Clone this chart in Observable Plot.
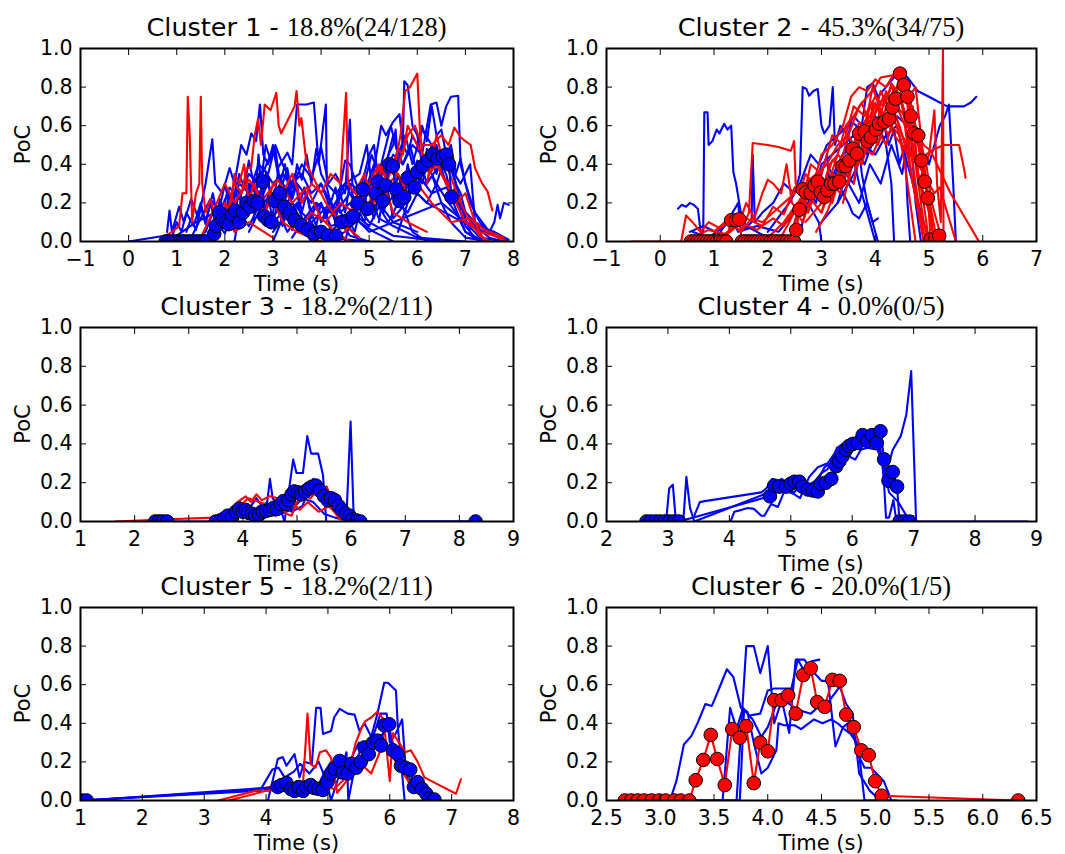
<!DOCTYPE html>
<html><head><meta charset="utf-8">
<script src="https://cdn.jsdelivr.net/npm/d3@7"></script>
<script src="https://cdn.jsdelivr.net/npm/@observablehq/plot@0.6"></script>
<style>
body{margin:0;background:#fff;}
#fig{position:relative;width:1065px;height:854px;overflow:hidden;}
#fig svg{position:absolute;}
</style></head>
<body><div id="fig"></div>
<script>
// ---------------- data ----------------
const titleNames = ["Cluster 1 - ","Cluster 2 - ","Cluster 3 - ","Cluster 4 - ","Cluster 5 - ","Cluster 6 - "];
const titleStats = ["18.8%(24/128)","45.3%(34/75)","18.2%(2/11)","0.0%(0/5)","18.2%(2/11)","20.0%(1/5)"];
const yTicks = [0,0.2,0.4,0.6,0.8,1.0];
const c1XTicks = [-1,0,1,2,3,4,5,6,7,8];
const c2XTicks = [-1,0,1,2,3,4,5,6,7];
const c3XTicks = [1,2,3,4,5,6,7,8,9];
const c4XTicks = [2,3,4,5,6,7,8,9];
const c5XTicks = [1,2,3,4,5,6,7,8];
const c6XTicks = [2.5,3.0,3.5,4.0,4.5,5.0,5.5,6.0,6.5];

const c1Blue = [
 [[0,0],[0.75,0.03],[0.9,0.02],[1.0,0.1],[1.1,0.05],[1.2,0.15],[1.35,0.08],[1.5,0.2],[1.6,0.1],[1.75,0.25],[1.85,0.12],[2.0,0.3],[2.1,0.18],[2.25,0.28],[2.4,0.15],[2.55,0.3],[2.7,0.2],[2.85,0.35],[3.0,0.22],[3.15,0.3],[3.3,0.12],[3.5,0.2],[3.7,0.05],[4.0,0.02],[4.3,0]],
 [[0.8,0.05],[0.85,0.16],[0.9,0.05],[1.05,0.18],[1.15,0.1],[1.3,0.22],[1.45,0.12],[1.6,0.3],[1.74,0.53],[1.8,0.3],[1.95,0.25],[2.1,0.38],[2.2,0.3],[2.34,0.5],[2.45,0.45],[2.55,0.56],[2.65,0.52],[2.73,0.71],[2.8,0.45],[2.9,0.4],[3.0,0.5],[3.1,0.35],[3.25,0.28],[3.4,0.2],[3.6,0.1],[3.8,0.05],[4.1,0.02],[5.0,0]],
 [[1.3,0.02],[1.5,0.12],[1.7,0.22],[1.9,0.15],[2.1,0.28],[2.3,0.22],[2.5,0.35],[2.7,0.3],[2.9,0.42],[3.0,0.48],[3.1,0.38],[3.3,0.46],[3.4,0.4],[3.5,0.71],[3.7,0.71],[3.85,0.72],[3.95,0.4],[4.1,0.71],[4.12,0.3],[4.3,0.25],[4.5,0.3],[4.7,0.2],[5.0,0.1],[5.5,0.03],[6.5,0]],
 [[2.0,0.1],[2.2,0.2],[2.4,0.28],[2.6,0.22],[2.8,0.38],[3.0,0.3],[3.2,0.35],[3.4,0.28],[3.6,0.4],[3.8,0.33],[4.0,0.49],[4.15,0.3],[4.3,0.35],[4.5,0.25],[4.6,0.63],[4.65,0.3],[4.8,0.2],[5.0,0.25],[5.2,0.12],[5.5,0.08],[6.0,0.02],[7.0,0]],
 [[3.0,0.05],[3.3,0.15],[3.6,0.1],[3.9,0.2],[4.2,0.15],[4.5,0.3],[4.8,0.35],[4.95,0.5],[5.05,0.3],[5.25,0.6],[5.35,0.55],[5.5,0.62],[5.63,0.66],[5.7,0.5],[5.73,0.83],[5.8,0.81],[5.9,0.6],[6.0,0.55],[6.1,0.4],[6.3,0.35],[6.5,0.2],[6.7,0.1],[7.0,0.02],[7.5,0]],
 [[4.0,0.1],[4.3,0.2],[4.6,0.3],[4.9,0.25],[5.1,0.4],[5.3,0.35],[5.5,0.45],[5.7,0.4],[5.9,0.5],[6.1,0.45],[6.28,0.71],[6.4,0.72],[6.5,0.6],[6.6,0.7],[6.7,0.75],[6.85,0.755],[6.9,0.4],[7.0,0.3],[7.2,0.15],[7.5,0.05],[7.9,0]],
 [[5.0,0.2],[5.3,0.3],[5.6,0.25],[5.9,0.35],[6.1,0.3],[6.3,0.5],[6.5,0.45],[6.7,0.38],[6.9,0.3],[7.1,0.4],[7.2,0.1],[7.5,0.05],[7.6,0.1],[7.67,0.19],[7.72,0.12],[7.8,0.2],[7.9,0.19]],
 [[1.0,0.03],[1.4,0.1],[1.8,0.15],[2.2,0.08],[2.6,0.18],[3.0,0.1],[3.4,0.2],[3.8,0.1],[4.2,0.2],[4.6,0.1],[5.0,0.3],[5.4,0.2],[5.8,0.35],[6.2,0.3],[6.6,0.45],[6.8,0.3],[7.0,0.1],[7.3,0.02],[7.8,0]],
 [[4.3,0.15],[4.5,0.42],[4.6,0.4],[4.8,0.25],[5.0,0.45],[5.1,0.5],[5.2,0.3],[5.4,0.45],[5.5,0.55],[5.6,0.45],[5.75,0.55],[5.9,0.4],[6.1,0.58],[6.3,0.5],[6.45,0.42],[6.6,0.3],[6.75,0.2],[7.0,0.05],[7.4,0.0]],
 [[2.5,0.05],[2.8,0.2],[3.0,0.25],[3.2,0.15],[3.5,0.3],[3.8,0.2],[4.0,0.3],[4.3,0.1],[4.6,0.15],[5.0,0.05],[5.5,0.1],[6.0,0.15],[6.5,0.2],[7.0,0.1],[7.6,0.05],[7.9,0.01]],
 [[5.8,0.3],[6.2,0.2],[6.8,0.12],[7.4,0.05],[7.8,0.01]],
 [[6.0,0.35],[6.3,0.25],[6.6,0.28],[6.9,0.18],[7.2,0.1],[7.7,0.02]],
 [[1.6,0.0],[1.9,0.2],[2.1,0.15],[2.3,0.3],[2.5,0.25],[2.7,0.4],[2.9,0.35],[3.05,0.5],[3.2,0.4],[3.4,0.3],[3.6,0.35],[3.8,0.25],[4.0,0.3],[4.3,0.15],[4.6,0.25],[4.9,0.15],[5.2,0.2],[5.5,0.1],[6.0,0.05]],
 [[4.7,0.1],[4.9,0.3],[5.05,0.45],[5.2,0.35],[5.45,0.6],[5.55,0.5],[5.7,0.4],[5.85,0.5],[6.0,0.35],[6.2,0.4],[6.4,0.3],[6.6,0.45],[6.75,0.35],[6.9,0.2],[7.1,0.05]],
 [[1.2,0.05],[1.3,0.12],[1.4,0.06],[1.5,0.18],[1.6,0.09],[1.7,0.2],[1.8,0.1],[1.9,0.22],[2.0,0.14],[2.1,0.25],[2.2,0.12],[2.3,0.27],[2.4,0.18],[2.5,0.3],[2.6,0.16],[2.7,0.26],[2.8,0.12],[2.9,0.24],[3.0,0.1],[3.1,0.2],[3.2,0.08],[3.3,0.18],[3.4,0.06],[3.5,0.14],[3.6,0.04],[3.8,0.1],[4.0,0.02],[4.3,0.0]],
 [[2.2,0.0],[2.3,0.15],[2.4,0.1],[2.5,0.25],[2.6,0.2],[2.7,0.32],[2.8,0.25],[2.9,0.3],[3.0,0.18],[3.1,0.35],[3.2,0.3],[3.3,0.38],[3.4,0.22],[3.5,0.3],[3.6,0.15],[3.7,0.25],[3.8,0.12],[3.9,0.2],[4.0,0.1],[4.1,0.16],[4.2,0.05],[4.4,0.1],[4.6,0.03],[5.0,0.0]],
 [[3.4,0.02],[3.6,0.1],[3.7,0.05],[3.8,0.15],[3.9,0.08],[4.0,0.2],[4.1,0.12],[4.2,0.22],[4.3,0.1],[4.4,0.25],[4.5,0.15],[4.6,0.3],[4.7,0.2],[4.8,0.28],[4.9,0.18],[5.0,0.32],[5.1,0.22],[5.2,0.3],[5.3,0.15],[5.4,0.25],[5.5,0.12],[5.7,0.18],[5.9,0.05],[6.2,0.0]],
 [[4.5,0.0],[4.6,0.1],[4.7,0.05],[4.8,0.15],[4.9,0.1],[5.0,0.2],[5.1,0.12],[5.2,0.25],[5.3,0.18],[5.4,0.3],[5.5,0.22],[5.6,0.35],[5.7,0.25],[5.8,0.4],[5.9,0.3],[6.0,0.42],[6.1,0.35],[6.2,0.48],[6.3,0.38],[6.4,0.5],[6.5,0.4],[6.6,0.35],[6.7,0.25],[6.8,0.28],[6.9,0.15],[7.0,0.08],[7.2,0.02]],
 [[1.8,0.0],[1.9,0.08],[2.0,0.04],[2.1,0.12],[2.2,0.06],[2.3,0.15],[2.5,0.08],[2.7,0.18],[2.9,0.1],[3.1,0.16],[3.3,0.05],[3.5,0.12],[3.7,0.03],[3.9,0.08],[4.1,0.0],[4.5,0.05],[4.8,0.12],[5.0,0.08],[5.2,0.18],[5.4,0.1],[5.6,0.2],[5.8,0.15],[6.0,0.25],[6.2,0.2],[6.4,0.3],[6.6,0.22],[6.8,0.15],[7.0,0.05],[7.3,0.0]],
 [[2.6,0.1],[2.7,0.45],[2.75,0.3],[2.85,0.5],[2.95,0.42],[3.05,0.48],[3.15,0.3],[3.25,0.4],[3.35,0.25],[3.45,0.35],[3.55,0.18],[3.65,0.28],[3.8,0.15],[4.0,0.2],[4.2,0.08],[4.5,0.1],[4.8,0.0]],
 [[5.2,0.1],[5.3,0.25],[5.4,0.45],[5.5,0.5],[5.55,0.58],[5.6,0.4],[5.7,0.5],[5.8,0.45],[5.9,0.55],[6.0,0.5],[6.1,0.6],[6.2,0.52],[6.3,0.7],[6.4,0.55],[6.5,0.58],[6.6,0.45],[6.7,0.5],[6.8,0.35],[6.9,0.43],[7.0,0.3],[7.1,0.2],[7.3,0.1],[7.6,0.03]],
 [[3.0,0.0],[3.2,0.12],[3.3,0.28],[3.4,0.22],[3.5,0.4],[3.6,0.32],[3.7,0.45],[3.8,0.3],[3.9,0.48],[4.0,0.35],[4.1,0.3],[4.2,0.2],[4.3,0.28],[4.4,0.15],[4.6,0.2],[4.8,0.1],[5.1,0.05],[5.5,0.0]],
 [[1.4,0.0],[1.6,0.05],[1.75,0.15],[1.9,0.1],[2.05,0.25],[2.15,0.2],[2.3,0.35],[2.4,0.28],[2.5,0.42],[2.6,0.3],[2.7,0.35],[2.8,0.2],[3.0,0.25],[3.2,0.12],[3.5,0.1],[3.8,0.0]],
 [[5.6,0.05],[5.8,0.2],[5.9,0.3],[6.0,0.25],[6.1,0.38],[6.2,0.3],[6.3,0.42],[6.4,0.35],[6.5,0.45],[6.6,0.38],[6.7,0.42],[6.8,0.3],[6.9,0.25],[7.0,0.15],[7.2,0.08],[7.5,0.02],[7.8,0.0]]
];
const c1Red = [
 [[0.7,0.02],[0.9,0.05],[1.05,0.08],[1.12,0.25],[1.2,0.25],[1.23,0.75],[1.27,0.55],[1.32,0.1],[1.4,0.25],[1.47,0.3],[1.5,0.75],[1.53,0.3],[1.6,0.15],[1.7,0.22],[1.85,0.08],[2.0,0.15],[2.2,0.05],[2.5,0.1],[3.0,0.02]],
 [[2.0,0.1],[2.2,0.3],[2.35,0.25],[2.45,0.38],[2.55,0.385],[2.62,0.55],[2.69,0.635],[2.75,0.5],[2.83,0.71],[2.95,0.68],[3.07,0.77],[3.12,0.6],[3.17,0.56],[3.31,0.63],[3.45,0.7],[3.49,0.78],[3.55,0.6],[3.59,0.64],[3.7,0.4],[3.9,0.3],[4.1,0.2],[4.4,0.1],[4.8,0.02]],
 [[2.8,0.1],[3.0,0.3],[3.2,0.25],[3.4,0.35],[3.6,0.2],[3.8,0.3],[4.0,0.25],[4.2,0.35],[4.4,0.3],[4.52,0.77],[4.56,0.3],[4.7,0.25],[4.9,0.35],[5.1,0.2],[5.3,0.3],[5.5,0.15],[5.8,0.1],[6.2,0.05]],
 [[5.0,0.2],[5.3,0.4],[5.5,0.35],[5.65,0.55],[5.75,0.78],[5.85,0.8],[6.0,0.87],[6.05,0.6],[6.1,0.45],[6.25,0.35],[6.4,0.4],[6.6,0.3],[6.8,0.2],[7.0,0.1],[7.3,0.05],[7.6,0.03],[7.87,0]],
 [[5.5,0.3],[5.8,0.55],[5.95,0.6],[6.1,0.5],[6.3,0.5],[6.5,0.55],[6.65,0.5],[6.77,0.59],[6.9,0.54],[7.0,0.52],[7.11,0.5],[7.2,0.38],[7.35,0.3],[7.46,0.26],[7.56,0.16]],
 [[3.5,0.05],[3.8,0.15],[4.1,0.1],[4.4,0.2],[4.7,0.15],[5.0,0.3],[5.2,0.4],[5.4,0.3],[5.6,0.35],[5.8,0.25],[6.0,0.3],[6.3,0.2],[6.7,0.1],[7.1,0.12],[7.4,0.06],[7.8,0.02]],
 [[1.5,0.02],[1.8,0.18],[2.0,0.3],[2.2,0.2],[2.5,0.32],[2.8,0.22],[3.1,0.32],[3.4,0.2],[3.7,0.28],[4.0,0.12],[4.3,0.05],[4.6,0.0]],
 [[6.2,0.3],[6.4,0.55],[6.5,0.45],[6.6,0.4],[6.75,0.3],[6.9,0.2],[7.1,0.1],[7.3,0.03],[7.5,0]],
 [[1.8,0.05],[2.0,0.2],[2.1,0.15],[2.2,0.35],[2.3,0.3],[2.4,0.4],[2.5,0.2],[2.6,0.3],[2.8,0.15],[3.0,0.22],[3.2,0.1],[3.5,0.05],[4.0,0.0]],
 [[4.5,0.05],[4.7,0.2],[4.8,0.3],[5.0,0.25],[5.2,0.38],[5.4,0.33],[5.6,0.48],[5.7,0.45],[5.8,0.6],[5.9,0.55],[6.0,0.5],[6.2,0.42],[6.35,0.48],[6.5,0.35],[6.65,0.3],[6.8,0.2],[7.0,0.25],[7.2,0.1],[7.4,0.0]]
];
const c1Mean = [[0.77,0],[0.83,0],[0.89,0],[0.95,0],[1.01,0],[1.07,0],[1.13,0],[1.19,0],[1.25,0],[1.31,0],[1.37,0],[1.43,0],[1.49,0],[1.55,0],[1.61,0],
 [1.78,0.04],[1.82,0.08],[1.88,0.15],[1.95,0.11],[2.02,0.1],[2.08,0.09],[2.15,0.14],[2.22,0.16],[2.3,0.1],[2.38,0.15],[2.45,0.2],[2.52,0.18],[2.6,0.21],[2.68,0.2],[2.79,0.31],[2.82,0.13],[2.9,0.11],[2.97,0.1],[3.04,0.21],[3.14,0.25],[3.24,0.18],[3.35,0.15],[3.45,0.11],[3.59,0.085],[3.73,0.06],[3.87,0.04],[4.0,0.05],[4.14,0.03],[4.31,0.03],[4.42,0.1],[4.56,0.11],[4.66,0.13],[4.76,0.2],[4.87,0.27],[4.97,0.17],[5.14,0.25],[5.18,0.31],[5.28,0.21],[5.35,0.29],[5.42,0.4],[5.49,0.39],[5.56,0.27],[5.63,0.21],[5.73,0.23],[5.8,0.33],[5.94,0.28],[6.0,0.36],[6.11,0.39],[6.22,0.42],[6.32,0.45],[6.42,0.43],[6.53,0.44],[6.6,0.45],[6.66,0.4],[6.71,0.23]];

const c2Blue = [
 [[0.33,0.17],[0.4,0.19],[0.48,0.18],[0.55,0.2],[0.62,0.19],[0.7,0.17],[0.76,0.03],[0.8,0.05],[0.82,0.67],[0.88,0.67],[0.9,0.5],[0.97,0.52],[1.05,0.58],[1.1,0.56],[1.19,0.61],[1.25,0.58],[1.32,0.6],[1.36,0.36],[1.41,0.3],[1.5,0.15],[1.6,0.08],[1.8,0.05],[2.0,0.02]],
 [[0.6,0.05],[0.9,0.02],[1.2,0.08],[1.45,0.2],[1.5,0.05],[1.7,0.1],[1.72,0.45],[1.76,0.1],[1.9,0.15],[2.1,0.2],[2.3,0.3],[2.5,0.25],[2.6,0.35],[2.65,0.8],[2.72,0.79],[2.77,0.755],[2.85,0.78],[2.93,0.79],[3.0,0.6],[3.05,0.56],[3.15,0.6],[3.21,0.8],[3.25,0.5],[3.35,0.6],[3.5,0.55],[3.7,0.3],[3.9,0.1],[4.0,0.0]],
 [[2.0,0.05],[2.4,0.2],[2.6,0.3],[2.8,0.45],[2.95,0.4],[3.1,0.5],[3.3,0.55],[3.5,0.6],[3.6,0.65],[3.75,0.6],[3.85,0.8],[3.95,0.82],[4.05,0.75],[4.2,0.8],[4.35,0.85],[4.48,0.88],[4.6,0.85],[4.79,0.78],[5.0,0.75],[5.2,0.72],[5.34,0.7],[5.5,0.7],[5.65,0.7],[5.78,0.72],[5.88,0.75]],
 [[2.5,0.1],[2.7,0.25],[2.9,0.35],[3.1,0.4],[3.3,0.3],[3.5,0.2],[3.58,0.145],[3.7,0.12],[3.85,0.2],[3.95,0.1],[4.05,0.12]],
 [[2.8,0.2],[3.0,0.4],[3.2,0.45],[3.4,0.5],[3.6,0.55],[3.8,0.6],[4.0,0.65],[4.2,0.5],[4.3,0.3],[4.35,0.0]],
 [[3.2,0.3],[3.4,0.45],[3.6,0.5],[3.8,0.4],[4.0,0.55],[4.2,0.6],[4.4,0.65],[4.6,0.6],[4.8,0.5],[5.0,0.4],[5.2,0.6],[5.3,0.65],[5.37,0.71],[5.45,0.3],[5.5,0.0]],
 [[3.0,0.1],[3.3,0.2],[3.6,0.35],[3.8,0.5],[4.0,0.45],[4.2,0.55],[4.4,0.6],[4.6,0.4],[4.8,0.2],[5.0,0.0]],
 [[3.5,0.3],[3.7,0.2],[3.9,0.4],[4.1,0.3],[4.3,0.5],[4.5,0.35],[4.65,0.6],[4.75,0.2],[4.85,0.0]],
 [[0.55,0.05],[0.8,0.08],[1.1,0.04],[1.3,0.13],[1.45,0.05],[1.8,0.08],[2.2,0.05],[2.5,0.15],[2.75,0.2],[2.95,0.1],[3.0,0.0]],
 [[3.3,0.2],[3.45,0.35],[3.6,0.3],[3.75,0.5],[3.85,0.45],[3.95,0.6],[4.05,0.55],[4.15,0.62],[4.25,0.5],[4.35,0.58],[4.45,0.4],[4.55,0.5],[4.6,0.2],[4.65,0.0]],
 [[2.6,0.05],[2.8,0.25],[2.9,0.2],[3.0,0.35],[3.1,0.45],[3.15,0.3],[3.3,0.4],[3.45,0.48],[3.55,0.62],[3.65,0.6],[3.75,0.35],[3.85,0.2],[3.95,0.1],[4.05,0.0]]
];
const c2Red = [
 [[-0.54,0.0],[0.39,0.0],[0.48,0.135],[0.6,0.1],[0.75,0.05],[0.9,0.1],[1.1,0.07],[1.3,0.1],[1.5,0.05],[1.7,0.12],[1.9,0.1],[2.1,0.15],[2.3,0.2],[2.5,0.25],[2.7,0.3],[2.9,0.35],[3.1,0.4],[3.3,0.5],[3.5,0.55],[3.7,0.7],[3.85,0.75],[4.0,0.8],[4.1,0.85],[4.3,0.86],[4.5,0.85],[4.6,0.7],[4.7,0.5],[4.8,0.3],[4.9,0.1],[5.0,0.0]],
 [[1.5,0.05],[1.65,0.15],[1.72,0.51],[2.0,0.5],[2.2,0.49],[2.43,0.47],[2.49,0.52],[2.52,0.3],[2.6,0.25],[2.7,0.35],[2.85,0.3],[3.0,0.45],[3.2,0.5],[3.4,0.6],[3.55,0.75],[3.7,0.8],[3.85,0.78],[4.0,0.84],[4.2,0.8],[4.35,0.87],[4.5,0.88],[4.6,0.8],[4.75,0.6],[4.85,0.4],[5.0,0.2],[5.1,0.0]],
 [[1.0,0.05],[1.2,0.1],[1.45,0.08],[1.6,0.2],[1.75,0.12],[1.9,0.25],[2.0,0.32],[2.1,0.3],[2.25,0.25],[2.35,0.4],[2.45,0.2],[2.6,0.15],[2.8,0.4],[3.0,0.35],[3.2,0.55],[3.4,0.5],[3.6,0.7],[3.8,0.65],[4.0,0.75],[4.15,0.7],[4.3,0.8],[4.45,0.75],[4.6,0.6],[4.7,0.7],[4.8,0.3],[5.0,0.45],[5.1,0.68],[5.15,0.3],[5.22,0.1],[5.26,1.0],[5.27,0.0]],
 [[2.4,0.0],[2.55,0.15],[2.7,0.2],[2.85,0.3],[3.0,0.25],[3.15,0.4],[3.3,0.45],[3.45,0.6],[3.6,0.65],[3.75,0.72],[3.9,0.6],[4.05,0.7],[4.2,0.65],[4.35,0.55],[4.5,0.5],[4.65,0.45],[4.8,0.4],[4.95,0.45],[5.03,0.47],[5.28,0.5],[5.56,0.5],[5.65,0.38],[5.68,0.33]],
 [[2.0,0.02],[2.3,0.1],[2.55,0.2],[2.75,0.15],[2.95,0.3],[3.1,0.25],[3.3,0.35],[3.5,0.4],[3.65,0.5],[3.8,0.6],[4.0,0.7],[4.2,0.75],[4.4,0.7],[4.55,0.65],[4.7,0.6],[4.9,0.5],[5.03,0.47],[5.4,0.25],[5.93,0.0]],
 [[2.9,0.05],[3.1,0.15],[3.3,0.3],[3.5,0.35],[3.7,0.55],[3.85,0.65],[3.95,0.8],[4.05,0.72],[4.2,0.6],[4.35,0.68],[4.5,0.55],[4.7,0.45],[4.9,0.35],[5.1,0.25],[5.2,0.28],[5.5,0.0]],
 [[3.4,0.2],[3.6,0.45],[3.75,0.4],[3.9,0.55],[4.05,0.5],[4.2,0.62],[4.4,0.8],[4.55,0.85],[4.65,0.76],[4.75,0.8],[4.85,0.55],[4.95,0.3],[5.05,0.15],[5.15,0.0]],
 [[0.6,0.02],[0.9,0.06],[1.2,0.04],[1.5,0.1],[1.8,0.06],[2.1,0.12],[2.3,0.08],[2.5,0.17],[2.65,0.1],[2.8,0.22],[3.0,0.15],[3.2,0.3],[3.35,0.25],[3.5,0.45],[3.65,0.4],[3.8,0.52],[3.95,0.5],[4.1,0.62],[4.25,0.55],[4.4,0.7],[4.55,0.6],[4.7,0.3],[4.85,0.1],[4.95,0.0]],
 [[2.5,0.05],[2.65,0.2],[2.8,0.25],[2.95,0.35],[3.05,0.3],[3.2,0.42],[3.35,0.4],[3.5,0.55],[3.6,0.5],[3.7,0.62],[3.8,0.58],[3.9,0.7],[4.0,0.66],[4.1,0.78],[4.2,0.72],[4.3,0.82],[4.4,0.78],[4.5,0.7],[4.6,0.55],[4.7,0.4],[4.8,0.2],[4.9,0.05],[5.0,0.0]],
 [[2.7,0.1],[2.85,0.15],[3.0,0.2],[3.15,0.3],[3.3,0.28],[3.45,0.4],[3.6,0.45],[3.75,0.55],[3.9,0.5],[4.0,0.6],[4.1,0.68],[4.25,0.62],[4.4,0.75],[4.5,0.72],[4.6,0.62],[4.7,0.48],[4.8,0.35],[4.9,0.25],[5.0,0.15],[5.1,0.0]],
 [[3.0,0.15],[3.1,0.25],[3.2,0.2],[3.35,0.35],[3.5,0.3],[3.6,0.45],[3.7,0.42],[3.8,0.55],[3.9,0.52],[4.0,0.62],[4.1,0.58],[4.2,0.7],[4.3,0.65],[4.4,0.6],[4.5,0.5],[4.6,0.45],[4.7,0.3],[4.8,0.15],[4.9,0.0]],
 [[3.6,0.3],[3.7,0.5],[3.8,0.62],[3.9,0.58],[3.95,0.72],[4.05,0.68],[4.15,0.75],[4.25,0.7],[4.35,0.8],[4.45,0.76],[4.55,0.82],[4.65,0.7],[4.75,0.58],[4.85,0.5],[4.95,0.4],[5.05,0.2],[5.2,0.05],[5.3,0.0]],
 [[2.2,0.0],[2.4,0.1],[2.6,0.22],[2.75,0.18],[2.9,0.28],[3.05,0.22],[3.2,0.35],[3.35,0.32],[3.5,0.42],[3.65,0.38],[3.8,0.48],[3.95,0.45],[4.1,0.55],[4.2,0.5],[4.3,0.6],[4.45,0.55],[4.55,0.4],[4.65,0.2],[4.75,0.0]],
 [[1.0,0.0],[1.3,0.05],[1.6,0.12],[1.9,0.08],[2.1,0.18],[2.3,0.14],[2.5,0.28],[2.7,0.22],[2.9,0.32],[3.1,0.28],[3.3,0.45],[3.5,0.4],[3.7,0.58],[3.85,0.55],[4.0,0.72],[4.1,0.65],[4.2,0.78],[4.3,0.7],[4.45,0.6],[4.6,0.45],[4.7,0.6],[4.8,0.35],[4.9,0.2],[5.0,0.0]]
];
const c2Mean = [[0.57,0],[0.63,0],[0.69,0],[0.75,0],[0.81,0],[0.87,0],[0.93,0],[0.99,0],[1.05,0],[1.11,0],[1.17,0],[1.23,0],[1.32,0.11],[1.41,0.11],[1.47,0.115],[1.52,0],[1.57,0],[1.63,0],[1.69,0],[1.75,0],[1.81,0],[1.87,0],[1.93,0],[1.99,0],[2.05,0],[2.11,0],[2.17,0],[2.23,0],[2.29,0],[2.35,0],[2.42,0],[2.49,0],
 [2.53,0.06],[2.59,0.165],[2.65,0.27],[2.71,0.255],[2.8,0.25],[2.87,0.29],[2.93,0.31],[2.99,0.255],[3.05,0.23],[3.11,0.265],[3.18,0.3],[3.24,0.3],[3.33,0.31],[3.39,0.39],[3.45,0.39],[3.52,0.42],[3.58,0.48],[3.66,0.455],[3.7,0.56],[3.8,0.57],[3.86,0.52],[3.92,0.54],[4.01,0.58],[4.07,0.61],[4.17,0.62],[4.26,0.635],[4.32,0.695],[4.38,0.74],[4.46,0.87],[4.53,0.81],[4.6,0.75],[4.66,0.65],[4.72,0.56],[4.8,0.55],[4.86,0.42],[4.92,0.31],[4.98,0.225],[5.03,0.01],[5.19,0.03]];

const c3Blue = [
 [[3.8,0.0],[3.95,0.1],[4.1,0.06],[4.25,0.12],[4.35,0.08],[4.45,0.1],[4.5,0.22],[4.55,0.12],[4.7,0.06],[4.77,0.0],[4.93,0.32],[4.99,0.25],[5.11,0.25],[5.19,0.44],[5.26,0.35],[5.39,0.35],[5.48,0.24],[5.54,0.0]],
 [[3.9,0.05],[4.1,0.03],[4.3,0.08],[4.5,0.05],[4.7,0.1],[4.9,0.05],[5.1,0.08],[5.3,0.22],[5.4,0.2],[5.5,0.1],[5.7,0.05],[5.85,0.03],[5.91,0.0],[5.99,0.515],[6.05,0.0],[6.2,0.0],[8.3,0.0]],
 [[4.0,0.02],[4.3,0.05],[4.6,0.03],[4.9,0.06],[5.1,0.12],[5.3,0.1],[5.5,0.04],[5.7,0.02],[6.0,0.0]]
];
const c3Red = [
 [[1.64,0.0],[2.5,0.01],[3.48,0.02],[3.7,0.04],[3.9,0.1],[4.05,0.13],[4.15,0.1],[4.25,0.14],[4.35,0.11],[4.5,0.13],[4.65,0.12],[4.8,0.04],[4.9,0.03],[5.0,0.1],[5.1,0.14],[5.25,0.12],[5.4,0.17],[5.55,0.18],[5.65,0.1],[5.8,0.02],[5.95,0.0]],
 [[3.7,0.02],[3.9,0.07],[4.1,0.12],[4.3,0.1],[4.5,0.08],[4.7,0.06],[4.9,0.1],[5.05,0.06],[5.2,0.1],[5.4,0.05],[5.6,0.08],[5.8,0.01]]
];
const c3Mean = [[2.38,0],[2.45,0],[2.52,0],[2.6,0],[3.5,0],[3.58,0.005],[3.65,0.015],[3.72,0.03],[3.8,0.02],[3.87,0.05],[3.93,0.065],[4.0,0.05],[4.05,0.06],[4.1,0.045],[4.17,0.04],[4.23,0.03],[4.3,0.035],[4.37,0.05],[4.43,0.055],[4.5,0.06],[4.57,0.07],[4.63,0.065],[4.7,0.09],[4.75,0.105],[4.8,0.09],[4.85,0.11],[4.9,0.14],[4.95,0.155],[5.02,0.15],[5.08,0.14],[5.15,0.155],[5.22,0.17],[5.28,0.18],[5.35,0.185],[5.42,0.16],[5.5,0.13],[5.57,0.11],[5.63,0.12],[5.7,0.11],[5.77,0.08],[5.83,0.06],[5.9,0.04],[5.97,0.03],[6.03,0.01],[6.1,0.005],[6.17,0],[8.3,0]];

const c4Blue = [
 [[2.97,0.0],[3.02,0.17],[3.08,0.19],[3.13,0.0],[3.25,0.0],[3.3,0.23],[3.36,0.07],[3.43,0.0],[4.57,0.14],[4.66,0.13],[4.75,0.2],[4.85,0.22],[5.0,0.18],[5.1,0.2],[5.2,0.16],[5.35,0.2],[5.45,0.22],[5.55,0.28],[5.65,0.3],[5.75,0.38],[5.85,0.4],[6.0,0.43],[6.1,0.42],[6.2,0.44],[6.35,0.43],[6.45,0.4],[6.52,0.21],[6.66,0.37],[6.79,0.44],[6.88,0.55],[6.96,0.775],[7.04,0.0],[8.85,0.0]],
 [[3.43,0.03],[3.52,0.1],[3.6,0.105],[4.52,0.15],[4.6,0.17],[4.7,0.22],[4.8,0.2],[4.95,0.17],[5.05,0.15],[5.15,0.18],[5.25,0.14],[5.4,0.21],[5.5,0.25],[5.6,0.27],[5.7,0.33],[5.8,0.36],[5.9,0.38],[6.0,0.42],[6.1,0.44],[6.2,0.41],[6.3,0.4],[6.4,0.43],[6.5,0.3],[6.55,0.02],[6.6,0.02],[6.67,0.11],[6.72,0.0],[6.8,0.0]],
 [[4.02,0.0],[4.08,0.05],[4.2,0.06],[4.3,0.07],[4.4,0.065],[4.52,0.03],[4.57,0.03],[4.68,0.09],[4.79,0.075],[4.9,0.16],[5.06,0.14],[5.15,0.12],[5.3,0.23],[5.44,0.28],[5.6,0.3],[5.71,0.35],[5.84,0.4],[5.98,0.33],[6.05,0.32],[6.14,0.37],[6.25,0.38],[6.41,0.37],[6.5,0.3],[6.6,0.15],[6.75,0.1],[6.9,0.02],[7.0,0.0]]
];
const c4Red = [];
const c4Mean = [[2.65,0],[2.72,0],[2.8,0],[2.87,0],[2.95,0],[3.02,0],[3.1,0],[3.18,0],[4.66,0.13],[4.73,0.185],[4.81,0.18],[4.92,0.18],[5.0,0.195],[5.06,0.205],[5.14,0.205],[5.19,0.18],[5.28,0.165],[5.36,0.16],[5.44,0.155],[5.49,0.195],[5.57,0.2],[5.66,0.22],[5.74,0.285],[5.79,0.31],[5.84,0.335],[5.9,0.37],[5.95,0.39],[6.01,0.4],[6.09,0.405],[6.17,0.445],[6.25,0.415],[6.32,0.445],[6.4,0.405],[6.46,0.465],[6.52,0.32],[6.59,0.21],[6.66,0.255],[6.73,0.18],[6.77,0],[6.85,0],[6.93,0]];

const c5Blue = [
 [[1.02,0.0],[4.1,0.06],[4.2,0.07],[4.35,0.09],[4.5,0.07],[4.65,0.09],[4.8,0.05],[4.95,0.15],[5.05,0.2],[5.15,0.17],[5.25,0.22],[5.35,0.2],[5.5,0.3],[5.6,0.27],[5.75,0.35],[5.85,0.45],[5.95,0.45],[6.0,0.3],[6.1,0.35],[6.2,0.42],[6.25,0.2],[6.35,0.08],[6.5,0.03],[6.7,0.0]],
 [[4.03,0.0],[4.19,0.215],[4.27,0.225],[4.33,0.18],[4.46,0.24],[4.54,0.12],[4.62,0.2],[4.74,0.19],[4.81,0.48],[4.88,0.48],[4.92,0.345],[5.05,0.36],[5.1,0.43],[5.19,0.475],[5.32,0.45],[5.43,0.445],[5.51,0.36],[5.59,0.4],[5.7,0.33],[5.8,0.45],[5.91,0.61],[5.97,0.61],[6.1,0.57],[6.13,0.38],[6.24,0.0]],
 [[1.0,0.0],[3.9,0.05],[4.1,0.16],[4.2,0.17],[4.3,0.12],[4.45,0.15],[4.55,0.19],[4.7,0.14],[4.85,0.2],[4.98,0.1],[5.05,0.0],[5.15,0.1],[5.3,0.25],[5.33,0.0],[5.45,0.2],[5.55,0.28],[5.65,0.25],[5.8,0.3],[5.95,0.38],[6.05,0.3],[6.2,0.2],[6.3,0.1],[6.45,0.05],[6.6,0.0]]
];
const c5Red = [
 [[3.23,0.0],[4.35,0.095],[4.5,0.05],[4.6,0.1],[4.67,0.45],[4.72,0.19],[4.8,0.17],[4.87,0.25],[4.97,0.26],[5.05,0.22],[5.15,0.04],[5.3,0.1],[5.45,0.3],[5.55,0.38],[5.6,0.41],[5.7,0.43],[5.8,0.46],[5.9,0.42],[6.0,0.1],[6.05,0.35],[6.15,0.3],[6.25,0.25],[6.34,0.26],[6.45,0.2],[6.56,0.12],[6.8,0.08],[7.07,0.035],[7.15,0.11]],
 [[3.4,0.0],[4.0,0.05],[4.3,0.06],[4.5,0.1],[4.7,0.05],[4.9,0.08],[5.1,0.06],[5.3,0.12],[5.5,0.2],[5.7,0.14],[5.9,0.3],[6.1,0.2],[6.3,0.1],[6.5,0.04],[6.7,0.0]]
];
const c5Mean = [[1.03,0],[1.1,0],[4.19,0.07],[4.25,0.08],[4.33,0.09],[4.4,0.06],[4.46,0.05],[4.53,0.07],[4.6,0.05],[4.65,0.07],[4.72,0.08],[4.78,0.065],[4.85,0.06],[4.92,0.055],[4.99,0.095],[5.05,0.14],[5.11,0.165],[5.19,0.205],[5.24,0.145],[5.32,0.14],[5.38,0.19],[5.46,0.17],[5.53,0.2],[5.59,0.275],[5.66,0.24],[5.73,0.3],[5.8,0.31],[5.86,0.285],[5.91,0.39],[5.99,0.395],[6.05,0.26],[6.13,0.24],[6.18,0.18],[6.25,0.17],[6.33,0.16],[6.39,0.07],[6.45,0.095],[6.52,0.06],[6.59,0.035],[6.64,0.01],[6.72,0.005]];

const c6Blue = [
 [[2.7,0.0],[3.09,0.0],[3.15,0.1],[3.22,0.29],[3.29,0.335],[3.35,0.405],[3.42,0.5],[3.48,0.49],[3.54,0.57],[3.62,0.68],[3.68,0.64],[3.75,0.48],[3.81,0.46],[3.87,0.3],[3.94,0.14],[4.0,0.17],[4.08,0.26],[4.1,0.4],[4.15,0.39],[4.25,0.39],[4.31,0.37],[4.43,0.42],[4.51,0.4],[4.59,0.42],[4.65,0.4],[4.71,0.37],[4.77,0.345],[4.84,0.29],[4.9,0.0],[5.2,0.0]],
 [[3.0,0.0],[3.58,0.0],[3.65,0.48],[3.71,0.37],[3.77,0.48],[3.83,0.44],[3.93,0.45],[4.0,0.57],[4.06,0.58],[4.22,0.58],[4.28,0.73],[4.34,0.67],[4.4,0.72],[4.48,0.73]],
 [[3.2,0.0],[3.71,0.0],[3.8,0.8],[3.87,0.8],[3.93,0.66],[4.0,0.8],[4.06,0.4],[4.13,0.52],[4.2,0.35],[4.26,0.73],[4.34,0.73],[4.42,0.67],[4.5,0.62],[4.56,0.62],[4.63,0.28],[4.7,0.38],[4.77,0.41],[4.84,0.24],[4.9,0.17],[4.96,0.17],[5.08,0.1],[5.15,0.0]],
 [[3.5,0.0],[3.74,0.0],[3.78,0.47],[3.86,0.42],[3.94,0.33],[4.0,0.38],[4.08,0.5],[4.15,0.52],[4.28,0.47],[4.4,0.45],[4.46,0.48],[4.55,0.5],[4.67,0.59],[4.73,0.5],[4.79,0.45],[4.85,0.14],[4.95,0.05],[5.05,0.0]]
];
const c6Red = [];
const c6Mean = [[2.67,0],[2.73,0],[2.79,0],[2.85,0],[2.92,0],[2.99,0],[3.05,0],[3.13,0],[3.19,0],[3.27,0],[3.33,0.105],[3.4,0.21],[3.47,0.34],[3.53,0.215],[3.6,0.08],[3.67,0.37],[3.74,0.325],[3.8,0.385],[3.87,0.09],[3.93,0.3],[4.0,0.255],[4.06,0.52],[4.13,0.52],[4.19,0.545],[4.26,0.45],[4.33,0.65],[4.4,0.685],[4.46,0.51],[4.53,0.485],[4.6,0.625],[4.67,0.62],[4.73,0.445],[4.8,0.38],[4.87,0.26],[4.94,0.235],[5.0,0.1],[5.06,0.025],[6.33,0.0]];

const panels = [
 {blue:c1Blue, red:c1Red, mean:c1Mean, meanColor:"#0000ff", xTicks:c1XTicks, fmt:"d", l:80, r:513, t:48, b:241},
 {blue:c2Blue, red:c2Red, mean:c2Mean, meanColor:"#ff0000", xTicks:c2XTicks, fmt:"d", l:606, r:1036, t:48, b:241},
 {blue:c3Blue, red:c3Red, mean:c3Mean, meanColor:"#0000ff", xTicks:c3XTicks, fmt:"d", l:80, r:513, t:327, b:521},
 {blue:c4Blue, red:c4Red, mean:c4Mean, meanColor:"#0000ff", xTicks:c4XTicks, fmt:"d", l:606, r:1036, t:327, b:521},
 {blue:c5Blue, red:c5Red, mean:c5Mean, meanColor:"#0000ff", xTicks:c5XTicks, fmt:"d", l:80, r:513, t:607, b:800},
 {blue:c6Blue, red:c6Red, mean:c6Mean, meanColor:"#ff0000", xTicks:c6XTicks, fmt:".1f", l:606, r:1036, t:607, b:800}
];

// ---------------- drawing ----------------
const fig = document.getElementById("fig");
const ML = 80, MR = 30, MT = 48, MB = 62;
const rows = (traces) => traces.flatMap((t, i) => t.map(([x, y]) => ({x, y, id: i})));

panels.forEach((p, k) => {
  const w = p.r - p.l, h = p.b - p.t;
  const xdom = [p.xTicks[0], p.xTicks[p.xTicks.length - 1]];
  const meanRows = p.mean.map(([x, y]) => ({x, y}));
  const svg = Plot.plot({
    width: w + ML + MR, height: h + MT + MB,
    marginLeft: ML, marginRight: MR, marginTop: MT, marginBottom: MB,
    x: {domain: xdom}, y: {domain: [0, 1]},
    style: {fontFamily: "DejaVu Sans", fontSize: "20.5px", background: "transparent", overflow: "visible", color: "black"},
    marks: [
      Plot.line(rows(p.blue), {x: "x", y: "y", z: "id", stroke: "#0000ff", strokeWidth: 2.1, clip: true}),
      Plot.line(rows(p.red), {x: "x", y: "y", z: "id", stroke: "#ff0000", strokeWidth: 2.1, clip: true}),
      Plot.line(meanRows, {x: "x", y: "y", stroke: p.meanColor, strokeWidth: 2.1, clip: true}),
      Plot.dot(meanRows, {x: "x", y: "y", r: 6.8, fill: p.meanColor, stroke: "black", strokeWidth: 1, clip: true}),
      Plot.frame({stroke: "black", strokeWidth: 2}),
      Plot.axisX({anchor: "bottom", ticks: p.xTicks, tickSize: -6, fill: "none", label: null}),
      Plot.axisX({anchor: "top", ticks: p.xTicks, tickSize: -6, fill: "none", label: null}),
      Plot.axisX({anchor: "bottom", ticks: p.xTicks, tickSize: 0, tickPadding: 10, tickFormat: d3.format(p.fmt), label: null}),
      Plot.axisY({anchor: "left", ticks: yTicks, tickSize: -6, fill: "none", label: null}),
      Plot.axisY({anchor: "right", ticks: yTicks, tickSize: -6, fill: "none", label: null}),
      Plot.axisY({anchor: "left", ticks: yTicks, tickSize: 0, tickPadding: 8, tickFormat: d3.format(".1f"), label: null})
    ]
  });
  svg.style.left = (p.l - ML) + "px";
  svg.style.top = (p.t - MT) + "px";
  const s = d3.select(svg);
  const t = s.append("text").attr("x", ML + w / 2).attr("y", MT - 12)
    .attr("text-anchor", "middle").style("white-space", "pre").attr("fill", "black");
  t.append("tspan").attr("font-family", "DejaVu Sans").attr("font-size", 25.5).text(titleNames[k]);
  t.append("tspan").attr("font-family", "Liberation Serif").attr("font-size", 26.5).text(titleStats[k]);
  s.append("text").attr("x", ML + w / 2).attr("y", MT + h + 50).attr("text-anchor", "middle")
    .attr("font-family", "DejaVu Sans").attr("font-size", 21).attr("fill", "black").text("Time (s)");
  s.append("text").attr("transform", `translate(${ML - 50},${MT + h / 2}) rotate(-90)`).attr("text-anchor", "middle")
    .attr("font-family", "DejaVu Sans").attr("font-size", 21).attr("fill", "black").text("PoC");
  fig.appendChild(svg);
});
</script></body></html>
